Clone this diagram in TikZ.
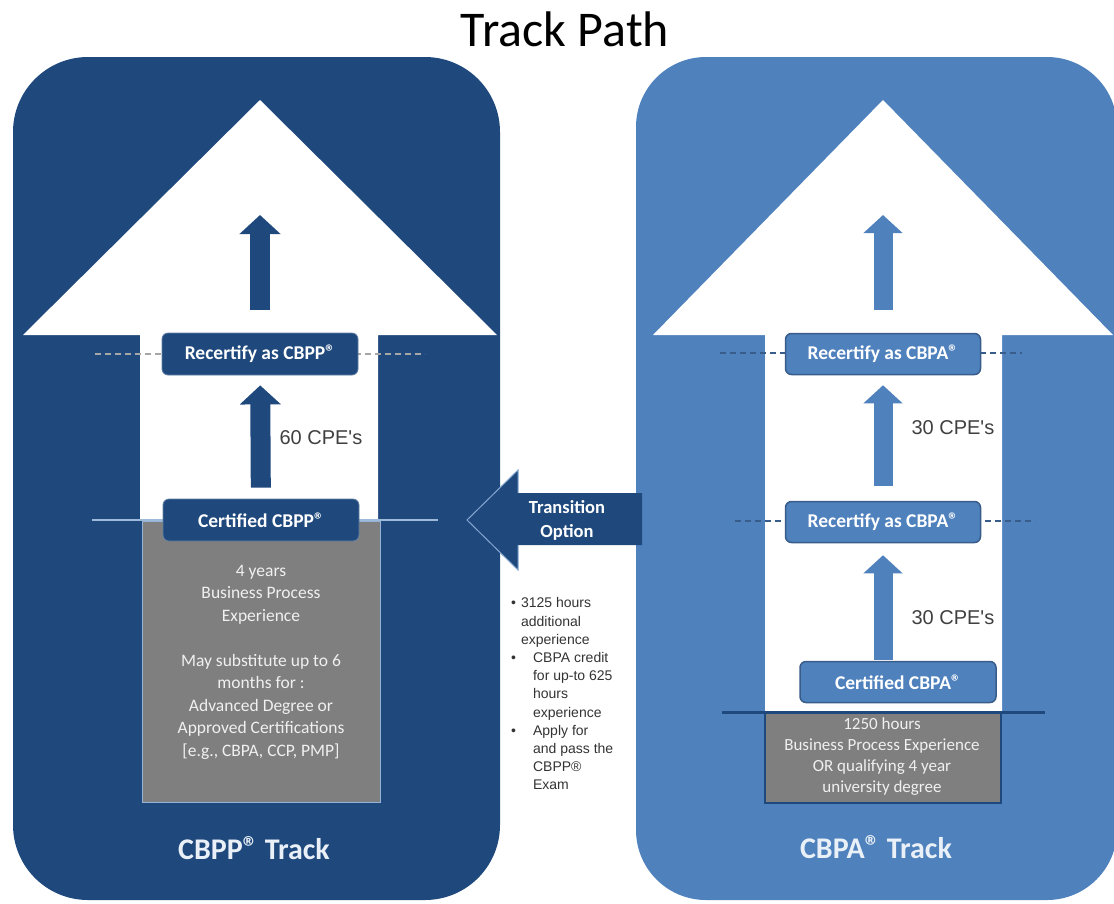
\documentclass[tikz,border=0pt]{standalone}
\usepackage{fontspec}
\setmainfont{Carlito}
\newfontfamily\arialfont{Liberation Sans}
\usetikzlibrary{arrows.meta}

\definecolor{trackdark}{HTML}{1F497D}
\definecolor{tracklight}{HTML}{4F81BD}
\definecolor{trackedge}{HTML}{385D8A}
\definecolor{reqgrey}{HTML}{7F7F7F}
\definecolor{cpetext}{HTML}{404040}

% registered sign (Carlito already sets it small and raised)
\newcommand{\regmark}{\raisebox{0.1ex}{®}}

\begin{document}
\begin{tikzpicture}[
    % one unit = 1pt, y runs downwards
    x={(1pt,0pt)},
    y={(0pt,-1pt)},
    darkbox/.style={fill=trackdark, draw=trackdark!70!white, line width=0.8pt,
        rounded corners=6pt, minimum width=196pt, minimum height=42pt,
        inner sep=0pt, text=white, font=\fontsize{19.5}{22}\selectfont\bfseries},
    lightbox/.style={fill=tracklight, draw=trackedge, line width=1.5pt,
        rounded corners=6pt, minimum width=195pt, minimum height=41pt,
        inner sep=0pt, text=white, font=\fontsize{19.5}{22}\selectfont\bfseries},
    darkarrow/.style={draw=trackdark, line width=20pt, -{Triangle[width=40pt,length=19pt]}},
    lightarrow/.style={draw=tracklight, line width=19pt, -{Triangle[width=38pt,length=18pt]}},
    cpe/.style={anchor=west, text=cpetext, font=\arialfont\fontsize{20}{24}\selectfont},
    greytext/.style={align=center, text=white!94!black, font=\fontsize{17.5}{22.5}\selectfont},
    tracklabel/.style={text=white!88!tracklight, font=\fontsize{30}{34}\selectfont\bfseries}
]
    \useasboundingbox (0,0) rectangle (1114,903);

    % --- Title ---
    \node[anchor=base, font=\fontsize{50}{60}\selectfont] (title) at (565,46) {Track Path};

    % --- Panels with the white up arrows ---
    \fill[trackdark, rounded corners=75pt] (13,57) rectangle (500,900);
    \fill[tracklight, rounded corners=70pt] (636,57) rectangle (1117,900);

    \fill[white] (260,100) -- (497,335) -- (378,335) -- (378,520)
        -- (140,520) -- (140,335) -- (23,335) -- cycle;
    \fill[white] (883,100) -- (1113,335) -- (1002,335) -- (1002,712)
        -- (765,712) -- (765,335) -- (653,335) -- cycle;

    % --- Requirement blocks ---
    \filldraw[fill=reqgrey, draw=tracklight!60!white, line width=1pt] (142,521) rectangle (380,802);
    \filldraw[fill=reqgrey, draw=trackdark, line width=1.5pt] (765,713) rectangle (1001,803);

    % --- Level lines ---
    \draw[gray!70!white, line width=1.5pt, dash pattern=on 6pt off 4pt] (95,354) -- (425,354);
    \draw[tracklight!55!white, line width=2pt] (92,520) -- (438,520);
    \draw[trackedge, line width=1.5pt, dash pattern=on 6pt off 4pt] (720,353) -- (1022,353);
    \draw[trackedge, line width=1.5pt, dash pattern=on 6pt off 4pt] (735,521) -- (1035,521);
    \draw[trackdark, line width=3pt] (722,712) -- (1045,712);

    % --- Steps ---
    \node[darkbox] (recL) at (260,354) {Recertify as CBPP\regmark};
    \node[darkbox] (certL) at (261,520) {Certified CBPP\regmark};

    \node[lightbox] (recA) at (883,354) {Recertify as CBPA\regmark};
    \node[lightbox] (recB) at (883,522) {Recertify as CBPA\regmark};
    \node[lightbox, minimum width=196pt] (certR) at (898,682) {Certified CBPA\regmark};

    % --- Step arrows ---
    \coordinate (topL) at (260,215);
    \coordinate (topR) at (883,215);
    \draw[darkarrow, shorten <=23pt] (recL) -- (topL);
    \draw[darkarrow, shorten <=11pt, shorten >=10pt] (certL) -- (recL);
    \draw[lightarrow, shorten <=23pt] (recA) -- (topR);
    \draw[lightarrow, shorten <=15pt, shorten >=10pt] (recB) -- (recA);
    \draw[lightarrow, shorten <=1pt, shorten >=12pt] (certR.north -| recB) -- (recB);

    \node[cpe] (cpeL) at (276,438) {60 CPE's};
    \node[cpe] (cpeA) at (908,428) {30 CPE's};
    \node[cpe] (cpeB) at (908,618) {30 CPE's};

    % --- Transition arrow ---
    \fill[trackdark] (642,493) -- (518,493) -- (518,470) -- (467,520)
        -- (518,570) -- (518,545) -- (642,545) -- cycle;
    \draw[tracklight!70!white, line width=1pt] (518,493) -- (518,470) -- (467,520)
        -- (518,570) -- (518,545);
    \node[align=center, text=white, font=\fontsize{18.5}{24}\selectfont\bfseries]
        (transition) at (567,520) {Transition\\Option};

    \node[anchor=north west, inner sep=0pt, text=black!80,
        font=\arialfont\fontsize{14}{18.2}\selectfont] (notes) at (511,595) {%
        \begin{tabular}{@{}l@{\hspace{5pt}}l@{}}
            \textbullet & 3125 hours\\
                        & additional\\
                        & experience\\
            \textbullet & \hspace{12pt}CBPA credit\\
                        & \hspace{12pt}for up-to 625\\
                        & \hspace{12pt}hours\\
                        & \hspace{12pt}experience\\
            \textbullet & \hspace{12pt}Apply for\\
                        & \hspace{12pt}and pass the\\
                        & \hspace{12pt}CBPP®\\
                        & \hspace{12pt}Exam
        \end{tabular}};

    % --- Requirement texts ---
    \node[greytext] (reqL) at (261,662) {4 years\\Business Process\\Experience\\[22.5pt]%
        May substitute up to 6\\months for :\\Advanced Degree or\\Approved Certifications\\%
        {[}e.g., CBPA, CCP, PMP{]}};
    \node[greytext, font=\fontsize{17}{21}\selectfont] (reqR) at (882,757)
        {1250 hours\\Business Process Experience\\OR qualifying 4 year\\university degree};

    % --- Track names ---
    \node[tracklabel] (trackL) at (254,848) {CBPP\regmark\ Track};
    \node[tracklabel] (trackR) at (876,847) {CBPA\regmark\ Track};
\end{tikzpicture}
\end{document}
